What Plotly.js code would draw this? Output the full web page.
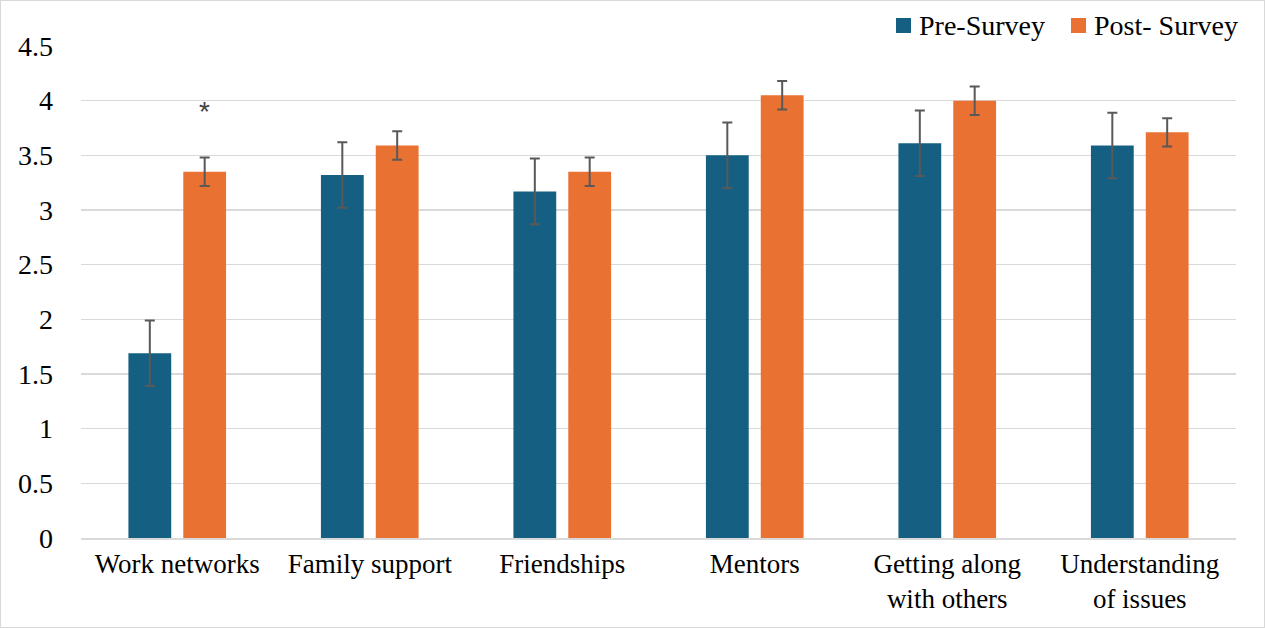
<!DOCTYPE html>
<html>
<head>
<meta charset="utf-8">
<script src="https://cdn.plot.ly/plotly-3.0.1.min.js"></script>
<style>
  html, body { margin: 0; padding: 0; background: #fff; }
  #chart { width: 1265px; height: 628px; box-sizing: border-box; border: 1px solid #d9d9d9; }
</style>
</head>
<body>
<div id="chart"></div>
<script>
// Survey categories and mean scores with error margins
const categories = ["Work networks", "Family support", "Friendships", "Mentors",
                    "Getting along<br>with others", "Understanding<br>of issues"];
const seriesNames = ["Pre-Survey", "Post- Survey"];
const preValues  = [1.69, 3.32, 3.17, 3.50, 3.61, 3.59];
const preErrors  = [0.30, 0.30, 0.30, 0.30, 0.30, 0.30];
const postValues = [3.35, 3.59, 3.35, 4.05, 4.00, 3.71];
const postErrors = [0.13, 0.13, 0.13, 0.13, 0.13, 0.13];
const yTicks = [0, 0.5, 1, 1.5, 2, 2.5, 3, 3.5, 4, 4.5];
const yTickText = ["0", "0.5", "1", "1.5", "2", "2.5", "3", "3.5", "4", "4.5"];

const colors = ["#156082", "#E97132"];
const font = { family: "Liberation Serif, Times New Roman, serif", size: 28, color: "#000" };
const errStyle = { type: "data", visible: true, color: "#595959", thickness: 2, width: 5 };

const W = 1265, H = 628;
const M = { l: 80, r: 30, t: 45, b: 91 };
const plotW = W - M.l - M.r, plotH = H - M.t - M.b;
// pixel -> paper fraction helpers for the legend placed above the plot area
const px = v => (v - M.l) / plotW;
const py = v => (H - M.b - v) / plotH;

const traces = [
  {
    type: "bar", name: seriesNames[0], x: categories, y: preValues,
    marker: { color: colors[0] },
    error_y: Object.assign({ array: preErrors }, errStyle)
  },
  {
    type: "bar", name: seriesNames[1], x: categories, y: postValues,
    marker: { color: colors[1] },
    error_y: Object.assign({ array: postErrors }, errStyle)
  }
];

// legend: colour swatch + label for each series, top right
const legendLeft = [895, 1070];
const shapes = legendLeft.map((x0, i) => ({
  type: "rect", xref: "paper", yref: "paper",
  x0: px(x0), x1: px(x0 + 15), y0: py(32), y1: py(17),
  fillcolor: colors[i], line: { width: 0 }
}));
const legendText = legendLeft.map((x0, i) => ({
  xref: "paper", yref: "paper", x: px(x0 + 21), y: py(25),
  xanchor: "left", yanchor: "middle", text: seriesNames[i], showarrow: false, font: font
}));

const layout = {
  width: W, height: H,
  margin: M,
  paper_bgcolor: "rgba(0,0,0,0)", plot_bgcolor: "#fff",
  font: font,
  barmode: "group", bargap: 0.43, bargroupgap: 0.22,
  showlegend: false,
  xaxis: {
    type: "category", tickfont: Object.assign({}, font, { size: 27 }), showgrid: false, ticks: "",
    showline: true, linecolor: "#d9d9d9", linewidth: 1.5, zeroline: false,
    ticklabelstandoff: 1
  },
  yaxis: {
    range: [0, 4.5], tickvals: yTicks, ticktext: yTickText, tickfont: font,
    showgrid: true, gridcolor: "#d9d9d9", gridwidth: 1.5, zeroline: false,
    showline: false, ticks: "", ticklabelstandoff: 27
  },
  shapes: shapes,
  annotations: legendText.concat([
    // significance marker over the post-survey work networks bar
    { x: categories[0], y: 3.9, xref: "x", yref: "y", text: "*", showarrow: false,
      xshift: 27, font: { family: "Liberation Sans, Arial, sans-serif", size: 28, color: "#404040" } }
  ])
};

Plotly.newPlot("chart", traces, layout, { displayModeBar: false, staticPlot: true });
</script>
</body>
</html>
